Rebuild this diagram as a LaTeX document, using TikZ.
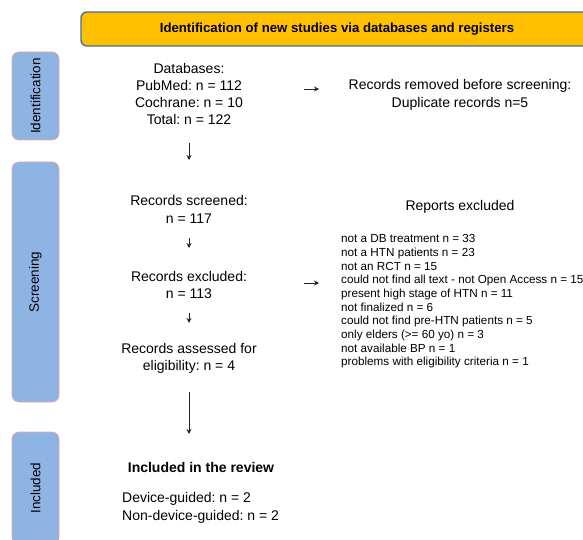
\documentclass[tikz,border=0pt]{standalone}
\usepackage{fontspec}
\setmainfont{Liberation Sans}
\usepackage{tikz}
\usetikzlibrary{arrows.meta}
\definecolor{hdrfill}{HTML}{FFC000}
\definecolor{hdrline}{HTML}{41719C}
\definecolor{phasefill}{HTML}{8EB4E3}
\definecolor{phaseline}{HTML}{E8A3AE}
\frenchspacing
\begin{document}
\begin{tikzpicture}[x=1pt,y=-1pt,
  phase/.style={rectangle,rounded corners=7pt,fill=phasefill,draw=phaseline,line width=0.7pt,minimum width=47pt,inner sep=0pt},
  stagetxt/.style={align=center,font=\fontsize{14}{17.3}\selectfont,inner sep=0pt},
  listtxt/.style={align=left,font=\fontsize{11.7}{13.67}\selectfont,inner sep=0pt},
  flow/.style={-{Stealth[length=5pt,width=5pt]},draw=black!85,line width=0.8pt}]
\useasboundingbox (0,0) rectangle (583,540);
% header
\node[rectangle,rounded corners=6pt,fill=hdrfill,draw=hdrline,line width=1.4pt,minimum width=512pt,minimum height=34pt,font=\bfseries\fontsize{13.2}{15}\selectfont] (header) at (337,29) {Identification of new studies via databases and registers};
% phases
\node[phase,minimum height=88pt] (idphase) at (35.5,96) {\rotatebox{90}{\fontsize{13.5}{15}\selectfont Identification}};
\node[phase,minimum height=240pt] (scrphase) at (35.5,282) {\rotatebox{90}{\fontsize{13.5}{15}\selectfont Screening}};
\node[phase,minimum height=112pt] (incphase) at (35.5,488) {\rotatebox{90}{\fontsize{13.5}{15}\selectfont Included}};
% identification
\node[stagetxt] (databases) at (189,94) {Databases:\\PubMed: n = 112\\Cochrane: n = 10\\Total: n = 122};
\node[stagetxt] (removed) at (460,95) {Records removed before screening:\\Duplicate records n=5};
% screening
\node[stagetxt] (screened) at (189,209.5) {Records screened:\\n = 117};
\node[stagetxt] (excluded) at (189,285) {Records excluded:\\n = 113};
\node[stagetxt] (assessed) at (189,358.5) {Records assessed for\\eligibility: n = 4};
\node[stagetxt] (reports) at (460,207) {Reports excluded};
\node[listtxt,anchor=west] (reasons) at (341,301.5) {not a DB treatment n = 33\\not a HTN patients n = 23\\not an RCT n = 15\\could not find all text - not Open Access n = 15\\present high stage of HTN n = 11\\not finalized n = 6\\could not find pre-HTN patients n = 5\\only elders (>= 60 yo) n = 3\\not available BP n = 1\\problems with eligibility criteria n = 1};
% included
\node[stagetxt,font=\bfseries\fontsize{14}{17.3}\selectfont] (review) at (201,467) {Included in the review};
\node[stagetxt,align=left,anchor=west] (groups) at (122,508) {Device-guided: n = 2\\Non-device-guided: n = 2};
% arrows
\coordinate (a1s) at (304,89);
\coordinate (a1e) at (319,89);
\coordinate (a2s) at (189,143);
\coordinate (a2e) at (189,160);
\coordinate (a3s) at (189,238);
\coordinate (a3e) at (189,248);
\coordinate (a4s) at (189,313);
\coordinate (a4e) at (189,323);
\coordinate (a5s) at (304,283);
\coordinate (a5e) at (319,283);
\coordinate (a6s) at (189,392);
\coordinate (a6e) at (189,434);
\draw[flow] (a1s) -- (a1e);
\draw[flow] (a2s) -- (a2e);
\draw[flow] (a3s) -- (a3e);
\draw[flow] (a4s) -- (a4e);
\draw[flow] (a5s) -- (a5e);
\draw[flow] (a6s) -- (a6e);
\end{tikzpicture}
\end{document}
